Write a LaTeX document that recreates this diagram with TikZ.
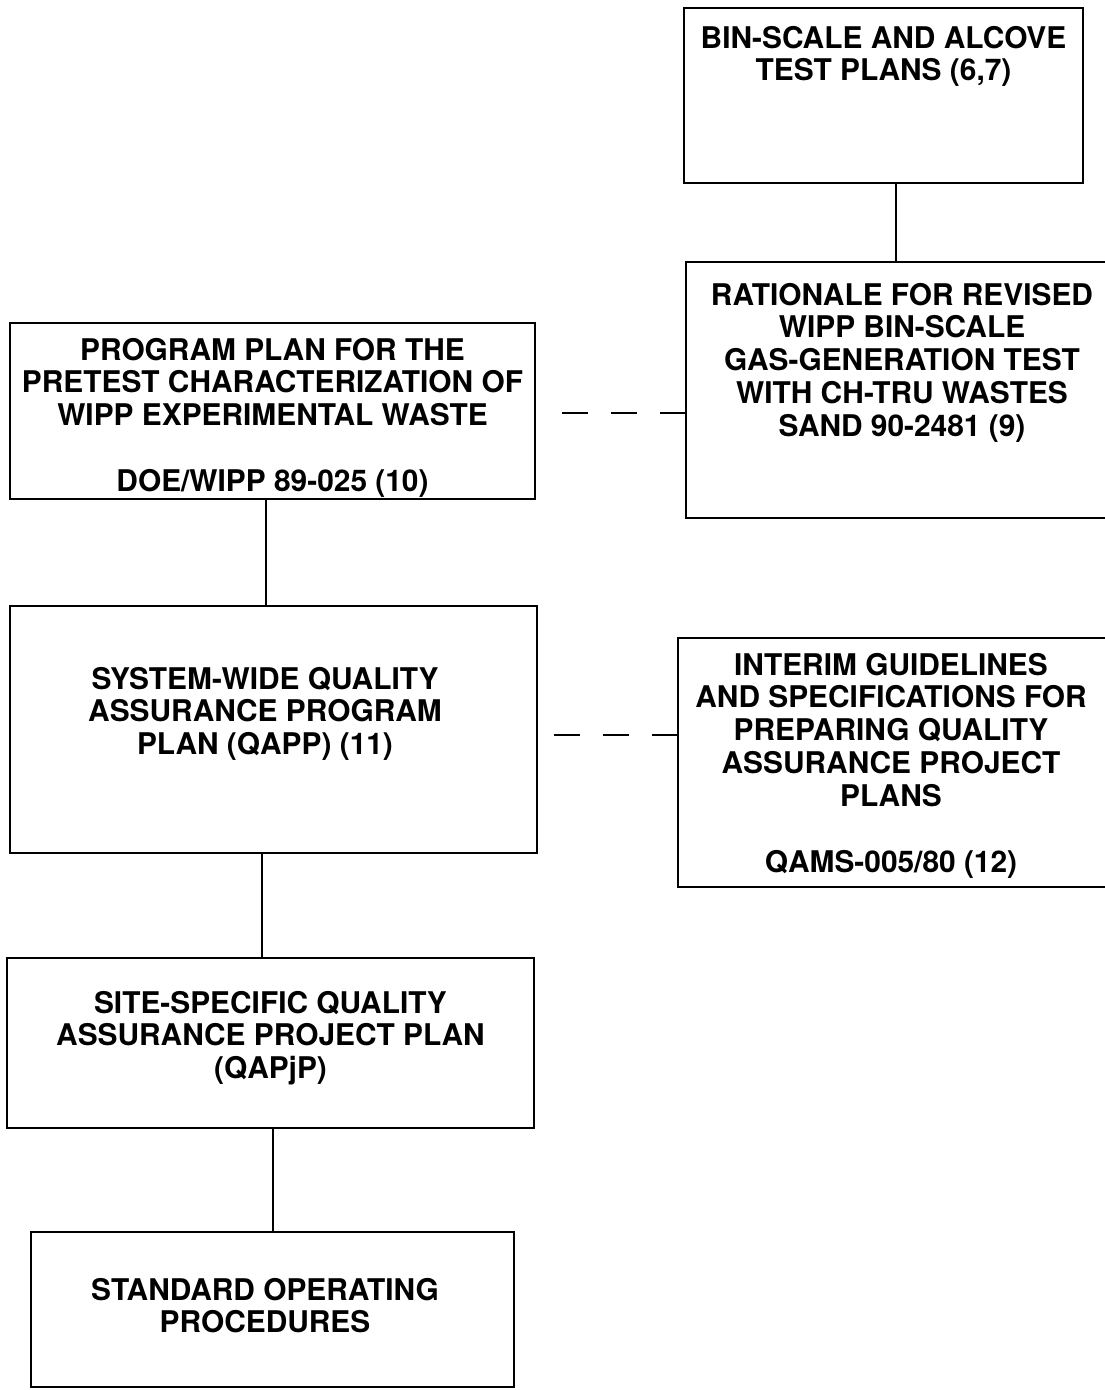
\documentclass[tikz,border=0pt]{standalone}
\usepackage{fontspec}
\setmainfont{TeX Gyre Heros}
\usetikzlibrary{positioning}
\tikzstyle{every picture}=[x=0.02cm,y=-0.02cm,line width=1.1pt]
\tikzstyle{kasten}=[draw,inner sep=0pt,outer sep=0pt]
\tikzstyle{schrift}=[inner sep=0pt,align=center,font=\bfseries\fontsize{17}{18.7}\selectfont]
\tikzstyle{strich}=[dash pattern=on 0.52cm off 0.46cm]

\begin{document}
\begin{tikzpicture}
			\useasboundingbox (0,0) rectangle (1105,1390);
			% Kaesten zeichnen
			\node[kasten,minimum width=7.98cm,minimum height=3.5cm] (bin) at (883.5,95.5) {};
			\node[kasten,minimum width=8.4cm,minimum height=5.12cm] (rat) at (896,390) {};
			\node[kasten,minimum width=10.5cm,minimum height=3.52cm] (prog) at (272.5,411) {};
			\node[kasten,minimum width=10.54cm,minimum height=4.94cm] (sys) at (273.5,729.5) {};
			\node[kasten,minimum width=8.6cm,minimum height=4.98cm] (int) at (893,762.5) {};
			\node[kasten,minimum width=10.54cm,minimum height=3.4cm] (site) at (270.5,1043) {};
			\node[kasten,minimum width=9.66cm,minimum height=3.1cm] (sop) at (272.5,1309.5) {};
			% Texte setzen
			\node[schrift,below=0.34cm of bin.north] (bintxt) {BIN-SCALE AND ALCOVE\\TEST PLANS (6,7)};
			\node[schrift,below=0.4cm of rat.north,xshift=0.12cm] (rattxt) {RATIONALE FOR REVISED\\WIPP BIN-SCALE\\GAS-GENERATION TEST\\WITH CH-TRU WASTES\\SAND 90-2481 (9)};
			\node[schrift,below=0.28cm of prog.north] (progtxt) {PROGRAM PLAN FOR THE\\PRETEST CHARACTERIZATION OF\\WIPP EXPERIMENTAL WASTE\\[18.7pt]DOE/WIPP 89-025 (10)};
			\node[schrift,below=1.2cm of sys.north,xshift=-0.17cm] (systxt) {SYSTEM-WIDE QUALITY\\ASSURANCE PROGRAM\\PLAN (QAPP) (11)};
			\node[schrift,below=0.28cm of int.north,xshift=-0.04cm] (inttxt) {INTERIM GUIDELINES\\AND SPECIFICATIONS FOR\\PREPARING QUALITY\\ASSURANCE PROJECT\\PLANS\\[18.7pt]QAMS-005/80 (12)};
			\node[schrift,below=0.64cm of site.north] (sitetxt) {SITE-SPECIFIC QUALITY\\ASSURANCE PROJECT PLAN\\(QAPjP)};
			\node[schrift,below=0.9cm of sop.north,xshift=-0.15cm] (soptxt) {STANDARD OPERATING\\PROCEDURES};
			% Verbindungen zeichnen
			\draw (rat.north) -- (rat.north |- bin.south);
			\draw ([xshift=-0.13cm]prog.south) -- ([xshift=-0.13cm]prog.south |- sys.north);
			\draw ([xshift=-0.23cm]sys.south) -- ([xshift=-0.23cm]sys.south |- site.north);
			\draw ([xshift=0.05cm]site.south) -- ([xshift=0.05cm]site.south |- sop.north);
			% gestrichelte Verbindungen
			\coordinate (d1) at ([xshift=0.2cm,yshift=-0.04cm]prog.east);
			\coordinate (d2) at ([xshift=0.2cm,yshift=-0.11cm]sys.east);
			\draw[strich] (d1 -| rat.west) -- (d1);
			\draw[strich] (d2 -| int.west) -- (d2);
		\end{tikzpicture}
\end{document}
